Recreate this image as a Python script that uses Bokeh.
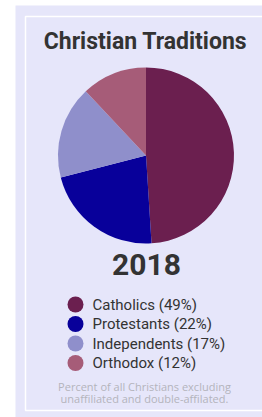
import math
from bokeh.plotting import figure
from bokeh.models import Range1d, ColumnDataSource
from bokeh.core.properties import value
from bokeh.embed import file_html
from bokeh.resources import INLINE

# ---- data ----
title = "Christian Traditions"
year = "2018"
categories = ["Catholics", "Protestants", "Independents", "Orthodox"]
shares = [49, 22, 17, 12]
colors = ["#6b1f4f", "#08009a", "#8f8fcb", "#a65c78"]
footnote = ["Percent of all Christians excluding", "unaffiliated and double-affilated."]

W, H = 262, 417
def fx(px): return px
def fy(py): return H - py

p = figure(width=W, height=H, x_range=Range1d(0, W), y_range=Range1d(0, H),
           output_backend="svg", toolbar_location=None, min_border=0)
p.axis.visible = False
p.grid.visible = False
p.outline_line_color = None
p.background_fill_color = "white"
p.border_fill_color = "white"

# panel
p.quad(left=[fx(15)], right=[fx(300)], bottom=[fy(440)], top=[fy(5)],
       fill_color="#e6e6fa", line_color=None)
p.quad(left=[fx(25)], right=[fx(310)], bottom=[fy(410)], top=[fy(16)],
       fill_color=None, line_color="white", line_width=1.5)

# pie
total = sum(shares)
starts, ends = [], []
cum = 0
for s in shares:
    starts.append(math.pi / 2 - 2 * math.pi * cum / total)
    cum += s
    ends.append(math.pi / 2 - 2 * math.pi * cum / total)
src = ColumnDataSource(dict(start=starts, end=ends, color=colors))
p.wedge(x=fx(145.5), y=fy(155), radius=88, start_angle="start", end_angle="end",
        direction="clock", fill_color="color", line_color=None, source=src)

# title and year
p.text(x=[fx(145)], y=[fy(41)], text=[title], text_font=value("Roboto"),
       text_font_style="bold", text_font_size="23px", text_color="#333333",
       text_align="center", text_baseline="middle")
p.text(x=[fx(146)], y=[fy(264)], text=[year], text_font=value("Roboto"),
       text_font_style="bold", text_font_size="30px", text_color="#333333",
       text_align="center", text_baseline="middle")

# legend
rows = [304, 323.5, 343, 362.5]
labels = [f"{c} ({s}%)" for c, s in zip(categories, shares)]
lsrc = ColumnDataSource(dict(x=[fx(75)] * 4, y=[fy(r) for r in rows], color=colors,
                             tx=[fx(92)] * 4, label=labels))
p.scatter(x="x", y="y", size=16, fill_color="color", line_color=None, source=lsrc)
p.text(x="tx", y="y", text="label", source=lsrc, text_font=value("Roboto"),
       text_font_size="15px", text_color="#333333", text_baseline="middle")

# footnote
p.text(x=[fx(144)] * 2, y=[fy(386), fy(398)], text=footnote, text_font=value("Open Sans"),
       text_font_size="11px", text_color="#b4b4bc", text_align="center",
       text_baseline="middle")

open("out.html", "w").write(file_html(p, INLINE))
